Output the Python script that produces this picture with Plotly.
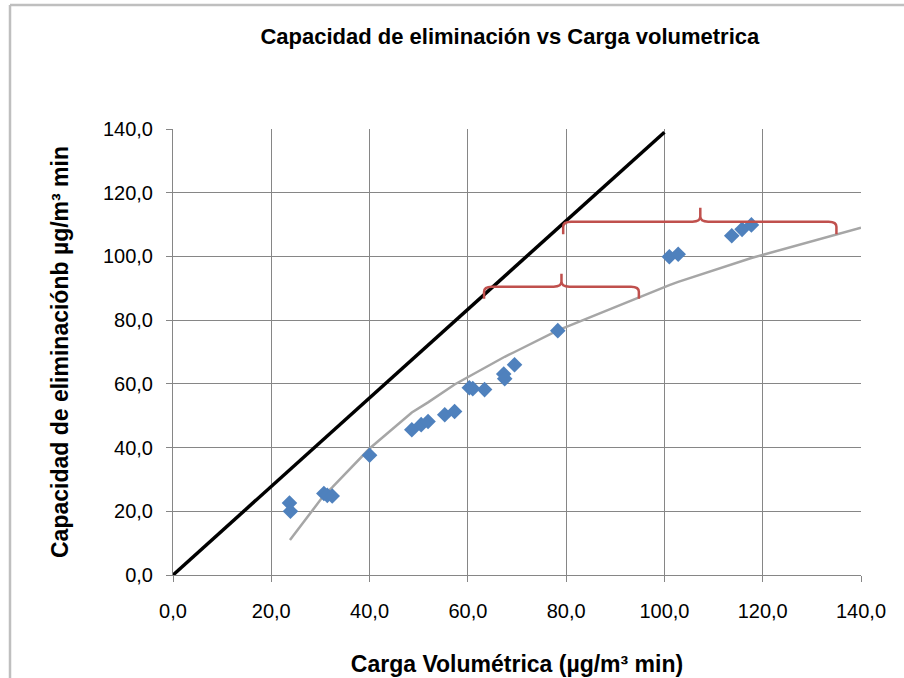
import plotly.graph_objects as go

# Measured data (Carga volumétrica vs Capacidad de eliminación)
carga = [23.7, 23.9, 30.7, 31.4, 32.4, 40.0, 48.6, 50.5, 51.9, 55.3, 57.3,
         60.3, 61.0, 63.4, 67.3, 67.5, 69.5, 78.3, 101.0, 102.8, 113.7, 115.8, 117.7]
capacidad = [22.6, 20.0, 25.6, 25.0, 24.8, 37.6, 45.6, 47.2, 48.2, 50.3, 51.3,
             58.8, 58.5, 58.2, 63.1, 61.6, 66.0, 76.7, 99.9, 100.7, 106.5, 108.5, 109.9]

# Trend curve (gray)
trend_x = [23.8, 30.7, 32.4, 40.0, 48.6, 51.9, 57.3, 61.0, 63.4, 67.5, 69.5,
           78.3, 101.0, 102.8, 117.7, 140.0]
trend_y = [11.0, 25.0, 27.5, 39.7, 51.0, 54.2, 59.8, 63.0, 65.0, 68.5, 70.0,
           76.8, 91.0, 92.0, 99.5, 109.0]

# 100% removal reference line (black)
ref_x = [0.0, 100.0]
ref_y = [0.0, 139.0]

# Bracket annotations (red)
br_x0 = [63.3, 79.4]
br_x1 = [94.8, 135.0]
br_xm = [79.05, 107.3]
br_y = [90.5, 110.9]
br_ylow = [86.7, 107.0]
br_ytop = [94.6, 115.3]

xticks = [0, 20, 40, 60, 80, 100, 120, 140]
yticks = [0, 20, 40, 60, 80, 100, 120, 140]

FONT = "Liberation Sans, Arial, sans-serif"
GRID = "#868686"

fig = go.Figure()
fig.add_trace(go.Scatter(x=ref_x, y=ref_y, mode="lines",
                         line=dict(color="black", width=3.5), showlegend=False))
fig.add_trace(go.Scatter(x=trend_x, y=trend_y, mode="lines",
                         line=dict(color="#A6A6A6", width=2.5), showlegend=False))
fig.add_trace(go.Scatter(x=carga, y=capacidad, mode="markers",
                         marker=dict(symbol="diamond", size=12, color="#4F81BD"),
                         showlegend=False))

shapes = []
rx, ry = 1.6, 1.6
for x0, x1, xm, y, yl, yt in zip(br_x0, br_x1, br_xm, br_y, br_ylow, br_ytop):
    path = (f"M {x0},{yl} L {x0},{y - ry} Q {x0},{y} {x0 + rx},{y} "
            f"L {xm - rx},{y} Q {xm},{y} {xm},{y + ry} L {xm},{yt} "
            f"L {xm},{y + ry} Q {xm},{y} {xm + rx},{y} "
            f"L {x1 - rx},{y} Q {x1},{y} {x1},{y - ry} L {x1},{yl}")
    shapes.append(dict(type="path", path=path, xref="x", yref="y",
                       line=dict(color="#C0504D", width=2.5)))

# outer chart border (top and left)
shapes.append(dict(type="line", xref="paper", yref="paper",
                   x0=(10 - 173) / 688, x1=(904 - 173) / 688,
                   y0=(575 - 5) / 446, y1=(575 - 5) / 446,
                   line=dict(color="#BFBFBF", width=2.5)))
shapes.append(dict(type="line", xref="paper", yref="paper",
                   x0=(10 - 173) / 688, x1=(10 - 173) / 688,
                   y0=(575 - 5) / 446, y1=(575 - 690) / 446,
                   line=dict(color="#BFBFBF", width=2.5)))

fig.update_layout(
    width=904, height=678,
    margin=dict(l=173, r=43, t=129, b=103),
    paper_bgcolor="white", plot_bgcolor="white",
    separators=",.",
    shapes=shapes,
    title=dict(text="<b>Capacidad de eliminación vs Carga volumetrica</b>",
               x=0.564, xanchor="center", y=0.947, yanchor="middle",
               font=dict(family=FONT, size=22, color="black")),
    font=dict(family=FONT, color="black"),
)
fig.update_xaxes(range=[0, 140], tickvals=xticks, tickformat=".1f",
                 automargin=False,
                 showgrid=True, gridcolor=GRID, gridwidth=1,
                 showline=True, linecolor=GRID, linewidth=1,
                 ticks="outside", ticklen=6, tickcolor=GRID,
                 tickfont=dict(size=20, family=FONT), ticklabelstandoff=12,
                 zeroline=False,
                 title=dict(text="<b>Carga Volumétrica (µg/m³ min)</b>",
                            font=dict(size=23, family=FONT), standoff=34))
fig.update_yaxes(range=[0, 140], tickvals=yticks, tickformat=".1f",
                 automargin=False,
                 showgrid=True, gridcolor=GRID, gridwidth=1,
                 showline=True, linecolor=GRID, linewidth=1,
                 ticks="outside", ticklen=6, tickcolor=GRID,
                 tickfont=dict(size=20, family=FONT), ticklabelstandoff=9,
                 zeroline=False,
                 title=dict(text="<b>Capacidad de eliminaciónb µg/m³ min</b>",
                            font=dict(size=23, family=FONT), standoff=27))

fig.write_html("out.html", config={"displayModeBar": False},
               post_script="document.body.style.margin='0px';")
